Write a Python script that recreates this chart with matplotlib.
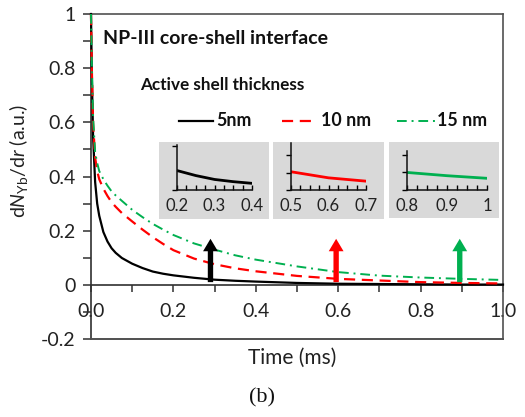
import matplotlib
matplotlib.use("Agg")
import matplotlib.pyplot as plt
from matplotlib.ticker import MultipleLocator, FixedLocator, FixedFormatter
from matplotlib.lines import Line2D

plt.rcParams["font.family"] = ["Lato", "DejaVu Sans"]
plt.rcParams["mathtext.fontset"] = "custom"
plt.rcParams["mathtext.rm"] = "Lato"
plt.rcParams["mathtext.it"] = "Lato:italic"

# Yb emission-rate profiles dN_Yb/dr for three active shell thicknesses
time_ms = [0.0, 0.002, 0.005, 0.01, 0.015, 0.02, 0.03, 0.04, 0.05, 0.06, 0.075,
           0.1, 0.125, 0.15, 0.175, 0.2, 0.25, 0.3, 0.35, 0.4, 0.5, 0.6, 0.7,
           0.8, 0.9, 1.0]
dn_5nm = [1.0, 0.78, 0.55, 0.38, 0.30, 0.255, 0.195, 0.16, 0.135, 0.118, 0.099,
          0.078, 0.062, 0.049, 0.041, 0.035, 0.026, 0.019, 0.015, 0.012, 0.007,
          0.004, 0.003, 0.002, 0.001, 0.001]
dn_10nm = [1.0, 0.80, 0.60, 0.47, 0.42, 0.39, 0.355, 0.328, 0.305, 0.288, 0.265,
           0.234, 0.204, 0.176, 0.151, 0.128, 0.097, 0.076, 0.061, 0.050, 0.033,
           0.022, 0.016, 0.010, 0.007, 0.005]
dn_15nm = [1.0, 0.82, 0.62, 0.49, 0.45, 0.42, 0.39, 0.366, 0.345, 0.33, 0.31,
           0.277, 0.25, 0.225, 0.204, 0.184, 0.153, 0.13, 0.109, 0.093, 0.068,
           0.047, 0.034, 0.027, 0.022, 0.018]

series_labels = ["5nm", "10 nm", "15 nm"]
series_colors = ["black", "#ff0000", "#00b050"]

# arrows marking where each zoom window applies
arrow_t = [0.29, 0.595, 0.895]
arrow_base, arrow_top = 0.01, 0.17

# zoom windows and their tick labels
inset_windows = [(0.2, 0.4), (0.5, 0.7), (0.8, 1.0)]
inset_ticks = [[0.2, 0.3, 0.4], [0.5, 0.6, 0.7], [0.8, 0.9, 1.0]]
inset_ticklabels = [["0.2", "0.3", "0.4"], ["0.5", "0.6", "0.7"], ["0.8", "0.9", "1"]]

W, H = 525, 417
fig = plt.figure(figsize=(W / 100, H / 100), dpi=100)


def rect(x0, y0, x1, y1):
    """pixel box (top-left origin) -> figure fraction rect"""
    return [x0 / W, 1 - y1 / H, (x1 - x0) / W, (y1 - y0) / H]


def fpos(x, y):
    return x / W, 1 - y / H


ax = fig.add_axes(rect(91, 14, 503, 339))
ax.set_xlim(0, 1)
ax.set_ylim(-0.2, 1)

frame = "#505050"
for s in ["top", "right"]:
    ax.spines[s].set_color(frame)
    ax.spines[s].set_linewidth(1.2)
ax.spines["left"].set_color("#303030")
ax.spines["left"].set_linewidth(1.2)
ax.spines["bottom"].set_position(("data", 0))
ax.spines["bottom"].set_color("#303030")
ax.spines["bottom"].set_linewidth(1.2)
ax.plot([0, 1], [-0.2, -0.2], color=frame, lw=1.4, clip_on=False, zorder=3)

styles = [dict(ls="-", lw=1.6),
          dict(dashes=(5, 3), lw=1.6),
          dict(dashes=(5, 2.5, 1, 2.5), lw=1.4)]
series = [dn_5nm, dn_10nm, dn_15nm]
for ys, c, st in zip(series, series_colors, styles):
    ax.plot(time_ms, ys, color=c, clip_on=False, zorder=4, **st)

ax.xaxis.set_major_locator(MultipleLocator(0.2))
ax.xaxis.set_minor_locator(MultipleLocator(0.1))
ax.xaxis.set_major_formatter(matplotlib.ticker.FormatStrFormatter("%.1f"))
ax.tick_params(axis="x", which="both", direction="out", length=5, width=1.1,
               color="#303030", labelsize=14, pad=8, labelcolor="#222222")

ax.yaxis.set_major_locator(MultipleLocator(0.2))
ax.yaxis.set_minor_locator(MultipleLocator(0.1))
ax.yaxis.set_major_formatter(matplotlib.ticker.FuncFormatter(
    lambda v, p: "%g" % round(v, 2)))
ax.tick_params(axis="y", which="both", direction="out", length=6, width=1.1,
               color="#303030", labelsize=14, pad=5, labelcolor="#222222")

fig.text(*fpos(292, 358), "Time (ms)", fontsize=15, color="#222222",
         ha="center", va="center")
fig.text(*fpos(19, 161), r"d$\mathit{N}_{\mathrm{Yb}}$/d$\mathit{r}$ (a.u.)",
         fontsize=14, color="#222222", rotation=90, ha="center", va="center")

for t, c in zip(arrow_t, series_colors):
    ax.arrow(t, arrow_base, 0, arrow_top - arrow_base, width=0.013,
             head_width=0.036, head_length=0.046, length_includes_head=True,
             color=c, lw=0, zorder=5)

fig.text(103 / W, 1 - 39 / H, "NP-III core-shell interface", fontsize=14,
         fontweight="bold", va="center", ha="left", color="#111111")
fig.text(140 / W, 1 - 85 / H, "Active shell thickness", fontsize=12.3,
         fontweight="bold", va="center", ha="left", color="#111111")

# legend entries: sample line followed by its label
legend_line_px = [(179, 213), (282, 317), (397, 435)]
legend_text_x = [216, 321, 437]
legend_y = 121
for i in range(3):
    x0, x1 = legend_line_px[i]
    fig.add_artist(Line2D([x0 / W, x1 / W], [1 - legend_y / H] * 2,
                          color=series_colors[i], **styles[i]))
    fig.text(legend_text_x[i] / W, 1 - legend_y / H, series_labels[i],
             fontsize=12.8, fontweight="bold", va="center", ha="left",
             color="#111111")

# zoomed insets of the tails
box_px = [(159, 142, 269, 219), (273, 142, 384, 219), (389, 142, 499, 218)]
inner_px = [(177, 145, 252, 190), (291, 143, 366, 190), (407, 151, 487, 190)]
inset_ymax = [0.081, 0.085, 0.06]
inset_ytick_frac = [[0.0, 0.97], [0.0, 0.37, 0.75], [0.0, 0.45, 0.91]]

for i in range(3):
    bx = fig.add_axes(rect(*box_px[i]))
    bx.set_facecolor("#d9d9d9")
    bx.set_xticks([])
    bx.set_yticks([])
    for s in bx.spines.values():
        s.set_visible(False)
    ia = fig.add_axes(rect(*inner_px[i]))
    ia.patch.set_alpha(0)
    ia.plot(time_ms, series[i], color=series_colors[i], lw=2)
    ia.set_xlim(*inset_windows[i])
    ia.set_ylim(0, inset_ymax[i])
    for s in ["top", "right"]:
        ia.spines[s].set_visible(False)
    for s in ["left", "bottom"]:
        ia.spines[s].set_color("#111111")
        ia.spines[s].set_linewidth(1.1)
    ia.xaxis.set_major_locator(FixedLocator(inset_ticks[i]))
    ia.xaxis.set_major_formatter(FixedFormatter(inset_ticklabels[i]))
    ia.xaxis.set_minor_locator(MultipleLocator(0.025))
    ia.tick_params(axis="x", which="both", direction="in", length=3.5,
                   width=1, labelsize=12, pad=6, labelcolor="#222222")
    ia.set_yticks([f * inset_ymax[i] for f in inset_ytick_frac[i]])
    ia.set_yticklabels([])
    ia.tick_params(axis="y", direction="out", length=3.5, width=1)

fig.text(262 / W, 1 - 398 / H, "(b)", fontsize=16, family="Liberation Serif",
         ha="center", va="center", color="#111111")

fig.savefig("out.png", dpi=100)
